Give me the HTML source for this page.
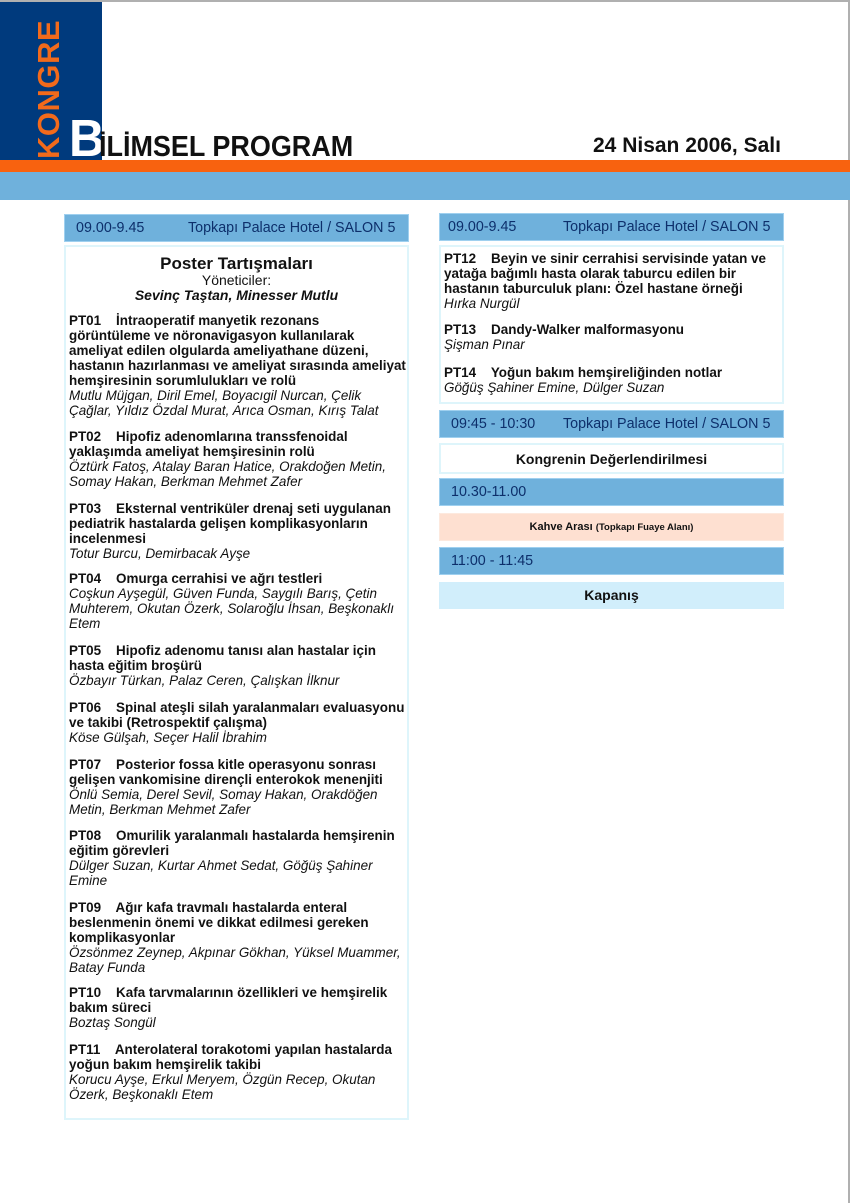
<!DOCTYPE html>
<html><head><meta charset="utf-8"><style>
*{margin:0;padding:0;box-sizing:border-box}
body{width:850px;height:1203px;position:relative;background:#fff;font-family:"Liberation Sans",Arial,sans-serif;overflow:hidden;border-top:2px solid #b0b0b0;border-right:2px solid #b0b0b0}
.a{position:absolute}
.hdr{position:absolute;background:#6fb1dc;border:1px solid #9fd0ef;color:#0d2f6b;font-size:14.3px;height:28px;line-height:27px}
.box{position:absolute;border:2px solid #def5fb;background:#fff}
.e{position:absolute;font-size:14px;line-height:15px;color:#111;white-space:nowrap;transform-origin:left top;transform:scaleX(.96)}
.e b{display:block}
.e i{display:block}
</style></head><body>
<div class="a" style="left:0;top:0;width:102px;height:158px;background:#003a7d"></div>
<div class="a" style="left:34px;top:157px;transform-origin:left top;transform:rotate(-90deg);color:#f26a1b;font-weight:bold;font-size:31px;letter-spacing:0.5px;width:140px;line-height:30px">KONGRE</div>
<div class="a" style="left:0;top:158px;width:850px;height:12px;background:#f8620f"></div>
<div class="a" style="left:0;top:170px;width:850px;height:28px;background:#6fb1dc"></div>
<div class="a" style="left:69px;top:114px;font-weight:bold;font-size:52px;line-height:46px;color:#fff;letter-spacing:-2px;transform-origin:left top;transform:scaleX(.95)">B</div>
<div class="a" style="left:99px;top:130px;font-weight:bold;font-size:29px;line-height:30px;color:#111;transform-origin:left top;transform:scaleX(.93)">İLİMSEL PROGRAM</div>
<div class="a" style="left:593px;top:132px;font-weight:bold;font-size:21px;line-height:24px;color:#111">24 Nisan 2006, Salı</div>

<div class="hdr" style="left:64px;top:212px;width:345px"><span style="position:absolute;left:11px">09.00-9.45</span><span style="position:absolute;left:123px">Topkapı Palace Hotel / SALON 5</span></div>
<div class="box" style="left:64px;top:243px;width:345px;height:875px"></div>
<div class="a" style="left:64px;top:252px;width:345px;text-align:center;color:#111">
<div style="font-weight:bold;font-size:17px;line-height:19px">Poster Tartışmaları</div>
<div style="font-size:14px;line-height:14px">Yöneticiler:</div>
<div style="font-weight:bold;font-style:italic;font-size:14px;line-height:16px">Sevinç Taştan, Minesser Mutlu</div>
</div>

<div class="e" style="left:69px;top:311px"><b>PT01&nbsp;&nbsp;&nbsp; İntraoperatif manyetik rezonans</b><b>görüntüleme ve nöronavigasyon kullanılarak</b><b>ameliyat edilen olgularda ameliyathane düzeni,</b><b>hastanın hazırlanması ve ameliyat sırasında ameliyat</b><b>hemşiresinin sorumlulukları ve rolü</b><i>Mutlu Müjgan, Diril Emel, Boyacıgil Nurcan, Çelik</i><i>Çağlar, Yıldız Özdal Murat, Arıca Osman, Kırış Talat</i></div>
<div class="e" style="left:69px;top:427px"><b>PT02&nbsp;&nbsp;&nbsp; Hipofiz adenomlarına transsfenoidal</b><b>yaklaşımda ameliyat hemşiresinin rolü</b><i>Öztürk Fatoş, Atalay Baran Hatice, Orakdoğen Metin,</i><i>Somay Hakan, Berkman Mehmet Zafer</i></div>
<div class="e" style="left:69px;top:499px"><b>PT03&nbsp;&nbsp;&nbsp; Eksternal ventriküler drenaj seti uygulanan</b><b>pediatrik hastalarda gelişen komplikasyonların</b><b>incelenmesi</b><i>Totur Burcu, Demirbacak Ayşe</i></div>
<div class="e" style="left:69px;top:569px"><b>PT04&nbsp;&nbsp;&nbsp; Omurga cerrahisi ve ağrı testleri</b><i>Coşkun Ayşegül, Güven Funda, Saygılı Barış, Çetin</i><i>Muhterem, Okutan Özerk, Solaroğlu İhsan, Beşkonaklı</i><i>Etem</i></div>
<div class="e" style="left:69px;top:641px"><b>PT05&nbsp;&nbsp;&nbsp; Hipofiz adenomu tanısı alan hastalar için</b><b>hasta eğitim broşürü</b><i>Özbayır Türkan, Palaz Ceren, Çalışkan İlknur</i></div>
<div class="e" style="left:69px;top:698px"><b>PT06&nbsp;&nbsp;&nbsp; Spinal ateşli silah yaralanmaları evaluasyonu</b><b>ve takibi (Retrospektif çalışma)</b><i>Köse Gülşah, Seçer Halil İbrahim</i></div>
<div class="e" style="left:69px;top:755px"><b>PT07&nbsp;&nbsp;&nbsp; Posterior fossa kitle operasyonu sonrası</b><b>gelişen vankomisine dirençli enterokok menenjiti</b><i>Önlü Semia, Derel Sevil, Somay Hakan, Orakdöğen</i><i>Metin, Berkman Mehmet Zafer</i></div>
<div class="e" style="left:69px;top:826px"><b>PT08&nbsp;&nbsp;&nbsp; Omurilik yaralanmalı hastalarda hemşirenin</b><b>eğitim görevleri</b><i>Dülger Suzan, Kurtar Ahmet Sedat, Göğüş Şahiner</i><i>Emine</i></div>
<div class="e" style="left:69px;top:898px"><b>PT09&nbsp;&nbsp;&nbsp; Ağır kafa travmalı hastalarda enteral</b><b>beslenmenin önemi ve dikkat edilmesi gereken</b><b>komplikasyonlar</b><i>Özsönmez Zeynep, Akpınar Gökhan, Yüksel Muammer,</i><i>Batay Funda</i></div>
<div class="e" style="left:69px;top:983px"><b>PT10&nbsp;&nbsp;&nbsp; Kafa tarvmalarının özellikleri ve hemşirelik</b><b>bakım süreci</b><i>Boztaş Songül</i></div>
<div class="e" style="left:69px;top:1040px"><b>PT11&nbsp;&nbsp;&nbsp; Anterolateral torakotomi yapılan hastalarda</b><b>yoğun bakım hemşirelik takibi</b><i>Korucu Ayşe, Erkul Meryem, Özgün Recep, Okutan</i><i>Özerk, Beşkonaklı Etem</i></div>

<div class="hdr" style="left:439px;top:211px;width:345px"><span style="position:absolute;left:8px">09.00-9.45</span><span style="position:absolute;left:123px">Topkapı Palace Hotel / SALON 5</span></div>
<div class="box" style="left:439px;top:243px;width:345px;height:159px"></div>
<div class="e" style="left:444px;top:249px"><b>PT12&nbsp;&nbsp;&nbsp; Beyin ve sinir cerrahisi servisinde yatan ve</b><b>yatağa bağımlı hasta olarak taburcu edilen bir</b><b>hastanın taburculuk planı: Özel hastane örneği</b><i>Hırka Nurgül</i></div>
<div class="e" style="left:444px;top:320px"><b>PT13&nbsp;&nbsp;&nbsp; Dandy-Walker malformasyonu</b><i>Şişman Pınar</i></div>
<div class="e" style="left:444px;top:363px"><b>PT14&nbsp;&nbsp;&nbsp; Yoğun bakım hemşireliğinden notlar</b><i>Göğüş Şahiner Emine, Dülger Suzan</i></div>

<div class="hdr" style="left:439px;top:408px;width:345px"><span style="position:absolute;left:11px">09:45 - 10:30</span><span style="position:absolute;left:123px">Topkapı Palace Hotel / SALON 5</span></div>
<div class="box" style="left:439px;top:441px;width:345px;height:31px;text-align:center;font-weight:bold;font-size:14px;line-height:28px;color:#111">Kongrenin Değerlendirilmesi</div>
<div class="hdr" style="left:439px;top:476px;width:345px"><span style="position:absolute;left:11px">10.30-11.00</span></div>
<div class="a" style="left:439px;top:511px;width:345px;height:28px;background:#fee0d1;border:1px solid #fde9de;text-align:center;font-weight:bold;font-size:11px;line-height:27px;color:#111">Kahve Arası <span style="font-size:9.5px">(Topkapı Fuaye Alanı)</span></div>
<div class="hdr" style="left:439px;top:545px;width:345px"><span style="position:absolute;left:11px">11:00 - 11:45</span></div>
<div class="a" style="left:439px;top:580px;width:345px;height:27px;background:#d1eefb;text-align:center;font-weight:bold;font-size:14px;line-height:26px;color:#111">Kapanış</div>
</body></html>
